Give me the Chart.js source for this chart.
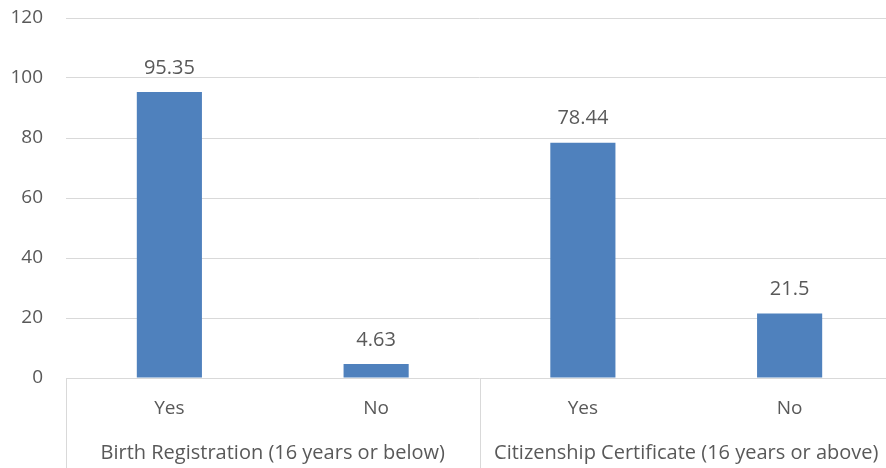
<!DOCTYPE html>
<html>
<head>
<meta charset="utf-8">
<script src="https://cdn.jsdelivr.net/npm/chart.js@4/dist/chart.umd.min.js"></script>
<style>
  html, body { margin: 0; padding: 0; background: #fff; overflow: hidden; }
  #wrap { width: 886px; height: 468px; position: relative; overflow: hidden; }
  #c { display: block; }
</style>
</head>
<body>
<div id="wrap"><canvas id="c" width="894" height="468"></canvas></div>
<script>
// Bar categories and their group labels
const categories = ["Yes", "No", "Yes", "No"];
const groups = ["Birth Registration (16 years or below)", "Citizenship Certificate (16 years or above)"];
const groupSpan = [2, 2];
const values = [95.35, 4.63, 78.44, 21.5];
const yTicks = [0, 20, 40, 60, 80, 100, 120];

const FONT = "'Open Sans', 'Liberation Sans', sans-serif";
const TEXT = "#595959";
const GRID = "#d9d9d9";

const labelsPlugin = {
  id: "labelsAndGroups",
  afterDatasetsDraw(chart) {
    const ctx = chart.ctx;
    const meta = chart.getDatasetMeta(0);
    ctx.save();
    ctx.fillStyle = TEXT;
    ctx.font = "20px " + FONT;
    ctx.textAlign = "center";
    ctx.textBaseline = "middle";
    meta.data.forEach((bar, i) => {
      ctx.fillText(String(values[i]), bar.x, bar.y - 24);
    });
    ctx.restore();
  },
  afterDraw(chart) {
    const ctx = chart.ctx;
    const area = chart.chartArea;
    const x = chart.scales.x;
    const H = chart.height;
    ctx.save();
    // category frame lines
    ctx.strokeStyle = GRID;
    ctx.lineWidth = 1;
    const half = (x.getPixelForValue(1) - x.getPixelForValue(0)) / 2;
    let idx = 0;
    const edges = [x.getPixelForValue(0) - half];
    groupSpan.forEach(n => { idx += n; edges.push(x.getPixelForValue(idx - 1) + half); });
    edges.forEach(e => {
      const px = Math.round(e) + 0.5;
      ctx.beginPath();
      ctx.moveTo(px, area.bottom);
      ctx.lineTo(px, H);
      ctx.stroke();
    });
    // inner category labels
    ctx.fillStyle = TEXT;
    ctx.font = "19px " + FONT;
    ctx.textAlign = "center";
    ctx.textBaseline = "middle";
    categories.forEach((c, i) => {
      ctx.fillText(c, x.getPixelForValue(i), area.bottom + 31);
    });
    // group labels
    ctx.font = "20px " + FONT;
    groups.forEach((g, gi) => {
      const mid = (edges[gi] + edges[gi + 1]) / 2;
      ctx.fillText(g, mid, area.bottom + 75);
    });
    ctx.restore();
  }
};

new Chart(document.getElementById("c"), {
  type: "bar",
  data: {
    labels: categories.map((c, i) => i),
    datasets: [{
      data: values,
      backgroundColor: "#4f81bd",
      categoryPercentage: 1,
      barPercentage: 0.315
    }]
  },
  options: {
    responsive: false,
    animation: false,
    devicePixelRatio: 1,
    layout: { padding: { top: 18, bottom: 90, right: 1, left: 0 } },
    plugins: { legend: { display: false }, tooltip: { enabled: false } },
    scales: {
      x: { display: false },
      y: {
        min: 0, max: 120,
        afterFit(s) { s.width = 66; s.paddingTop = 0; s.paddingBottom = 0; },
        afterBuildTicks(s) { s.ticks = yTicks.map(v => ({ value: v })); },
        border: { display: false },
        grid: { color: GRID, lineWidth: 1, drawTicks: false },
        ticks: { color: TEXT, font: { size: 19, family: FONT }, padding: 23 }
      }
    }
  },
  plugins: [labelsPlugin]
});
</script>
</body>
</html>
